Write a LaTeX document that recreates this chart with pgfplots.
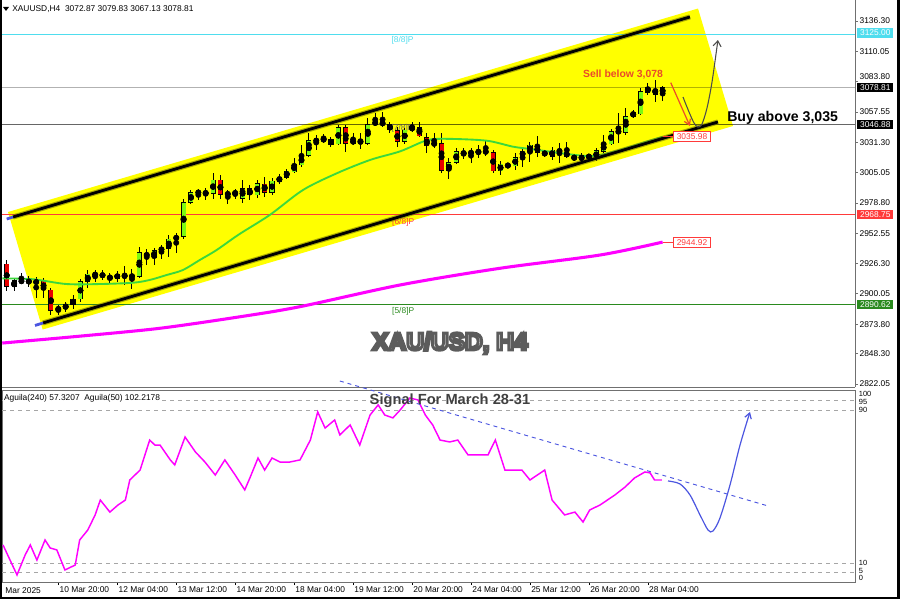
\documentclass[border=0pt]{standalone}
\usepackage{pgfplots}
\pgfplotsset{compat=1.18}
\usepackage{pgfplotstable}
\usepackage{fontspec}
\setmainfont{Liberation Sans}
\usetikzlibrary{arrows.meta}

\definecolor{chanyellow}{HTML}{FFFF00}
\definecolor{upcol}{HTML}{7CFA10}
\definecolor{dncol}{HTML}{E80000}
\definecolor{magf}{HTML}{FF00FF}
\definecolor{magreen}{HTML}{3CD83C}
\definecolor{lvcyan}{HTML}{4FDDEE}
\definecolor{lvred}{HTML}{FF3A3A}
\definecolor{lvgreen}{HTML}{2A8A1E}
\definecolor{sellred}{HTML}{EA4A2A}
\definecolor{trblue}{HTML}{4B55E0}
\definecolor{axgray}{HTML}{707070}

\newcommand{\tf}{\fontsize{6.3}{7.5}\selectfont}

% H4 candles, bar index i
\pgfplotstableread{
i o h l c
0 2925.9 2929.4 2902.8 2906.3
1 2906.3 2913.8 2902.8 2911.5
2 2910.0 2918.2 2908.6 2912.1
3 2912.1 2915.5 2906.0 2909.5
4 2909.5 2914.7 2896.5 2911.2
5 2911.2 2913.8 2896.5 2903.4
6 2903.4 2905.5 2881.8 2885.5
7 2885.8 2890.4 2881.8 2888.2
8 2887.5 2893.0 2884.5 2890.8
9 2890.8 2899.1 2887.0 2895.6
10 2895.6 2913.0 2893.0 2910.6
11 2910.6 2921.0 2905.0 2917.3
12 2916.5 2920.5 2910.0 2917.0
13 2917.2 2920.5 2912.0 2915.2
14 2913.5 2918.5 2909.0 2915.0
15 2913.5 2920.0 2910.5 2917.0
16 2916.5 2924.5 2907.5 2914.5
17 2915.0 2922.0 2904.0 2915.6
18 2915.0 2940.6 2914.0 2935.7
19 2935.2 2938.5 2925.5 2932.3
20 2931.7 2940.0 2925.5 2937.4
21 2937.4 2942.5 2930.5 2939.7
22 2939.5 2951.0 2932.3 2947.6
23 2947.6 2953.0 2935.5 2949.5
24 2949.5 2982.5 2948.0 2979.0
25 2979.0 2990.0 2978.0 2987.7
26 2987.5 2990.5 2981.0 2988.2
27 2988.0 2992.0 2981.5 2986.8
28 2986.8 3004.5 2982.0 2998.7
29 2998.7 3003.0 2982.0 2985.8
30 2985.8 2990.0 2978.0 2987.3
31 2987.0 2991.0 2982.0 2987.8
32 2982.8 2998.7 2978.5 2991.0
33 2991.1 2994.3 2981.3 2985.7
34 2985.7 2998.7 2983.5 2995.8
35 2995.2 3001.0 2983.7 2988.0
36 2988.0 3000.4 2985.7 2997.8
37 2997.2 3003.5 2995.5 3001.0
38 3000.8 3008.5 2999.5 3006.4
39 3005.6 3017.4 3004.5 3012.5
40 3011.6 3029.0 3010.2 3020.0
41 3019.7 3039.1 3018.8 3033.0
42 3032.0 3037.6 3024.6 3033.5
43 3032.6 3038.4 3031.0 3034.7
44 3033.9 3035.8 3026.8 3029.6
45 3029.8 3046.3 3029.0 3044.3
46 3044.3 3046.3 3022.6 3030.4
47 3030.4 3039.0 3028.6 3033.3
48 3033.0 3039.0 3025.5 3030.4
49 3030.4 3052.0 3029.0 3046.9
50 3046.9 3056.4 3045.4 3049.2
51 3049.2 3057.3 3044.8 3046.3
52 3046.9 3049.0 3039.0 3041.9
53 3041.3 3044.8 3027.5 3031.8
54 3031.8 3044.0 3030.0 3041.9
55 3041.9 3048.5 3040.5 3044.8
56 3044.3 3048.5 3035.5 3036.7
57 3035.7 3039.0 3021.8 3028.1
58 3029.0 3039.1 3026.1 3031.0
59 3030.4 3039.1 3004.4 3006.7
60 3006.7 3017.4 2999.3 3013.6
61 3013.6 3026.0 3012.4 3023.2
62 3022.0 3026.1 3016.6 3021.8
63 3022.0 3026.1 3013.3 3022.4
64 3021.8 3028.9 3017.5 3023.8
65 3023.0 3033.3 3019.4 3023.2
66 3022.6 3024.6 3005.0 3006.4
67 3006.4 3015.4 3003.0 3012.5
68 3011.0 3013.0 3009.5 3011.3
69 3010.8 3021.8 3007.3 3018.3
70 3018.8 3026.0 3010.0 3023.8
71 3023.2 3031.8 3014.5 3028.9
72 3028.1 3036.7 3018.8 3022.3
73 3022.9 3024.6 3018.8 3020.3
74 3018.8 3027.5 3016.0 3024.6
75 3025.2 3030.4 3013.1 3022.3
76 3022.9 3031.8 3017.4 3018.8
77 3018.8 3020.0 3015.5 3017.4
78 3017.4 3021.7 3013.5 3018.8
79 3018.8 3021.2 3016.6 3019.0
80 3017.4 3026.0 3015.5 3024.0
81 3023.2 3037.6 3021.8 3030.4
82 3029.8 3042.5 3029.0 3040.5
83 3040.5 3056.4 3030.4 3040.6
84 3039.6 3060.7 3037.6 3053.5
85 3053.5 3059.3 3052.1 3057.3
86 3055.8 3078.3 3055.0 3075.1
87 3074.6 3082.4 3072.2 3078.6
88 3077.2 3085.2 3066.4 3072.9
89 3072.87 3079.83 3067.13 3078.81
}\candles

% fast moving average (green)
\pgfplotstableread{
i v
-0.6 2913.5
3.6 2912.7
8.1 2908.6
12.7 2908.6
17.1 2909.7
19.4 2912.1
21.7 2916.4
23.9 2920.7
26.2 2929.4
28.5 2938.1
31.5 2951.5
35.7 2968.4
40.2 2990.0
44.8 3004.5
49.3 3016.0
53.4 3023.5
57.0 3033.0
59.7 3034.3
65.1 3032.7
68.7 3027.5
71.4 3025.2
76.0 3021.2
78.7 3019.4
80.5 3020.3
83.2 3024.6
86.8 3031.8
89.0 3035.98
}\mafast

% slow moving average (magenta)
\pgfplotstableread{
i v
-0.6 2857.5
10 2863.5
20.8 2870.3
31.7 2880.3
39.8 2889.0
53.4 2907.8
66.9 2922.2
80.5 2933.7
89.0 2944.92
}\maslow

% oscillator, lower panel
\pgfplotstableread{
i v
-0.5 19.4
0.45 11.5
1.4 3.7
2.5 14.1
3.2 19.4
4.1 11.5
5.2 22.0
5.9 17.8
6.8 16.8
7.9 6.3
9.3 8.9
9.9 22.0
11.0 27.2
12.0 35.1
12.7 42.9
14.0 36.6
15.1 40.3
16.1 42.9
16.7 53.4
18.1 58.6
19.4 74.3
20.1 71.7
20.8 71.7
22.2 63.9
22.8 61.3
24.2 75.9
25.6 68.1
26.9 62.8
28.3 56.0
29.6 63.9
31.0 56.0
32.3 48.2
33.0 54.5
34.1 64.9
35.0 58.6
36.0 64.9
37.1 62.8
38.4 62.8
39.8 63.9
41.2 74.3
42.2 89.0
43.2 80.6
44.5 84.8
45.2 77.0
46.6 82.2
47.9 71.7
49.3 87.4
50.4 92.7
51.3 87.4
52.4 85.9
53.4 90.1
54.7 96.3
55.8 95.3
56.8 87.4
57.8 82.2
58.8 74.3
60.1 73.3
61.2 74.3
62.6 66.5
63.9 66.5
65.3 66.5
66.3 74.3
67.6 58.6
69.0 58.6
69.9 58.6
71.0 53.4
73.0 58.6
74.0 42.9
75.7 35.1
77.1 36.6
78.2 31.4
79.1 37.7
80.5 40.3
82.5 45.5
83.9 49.7
85.2 54.5
86.6 57.6
87.3 57.1
87.9 53.4
88.9 53.4
}\osc

\begin{document}
\begin{tikzpicture}
\useasboundingbox (0,0) rectangle (675pt,-449.25pt);

%================ main price panel ================
\begin{axis}[
  at={(1.5pt,-290.25pt)}, anchor=south west,
  scale only axis, width=639.75pt, height=290.25pt,
  xmin=-0.638, xmax=115.1, ymin=2819.45, ymax=3154.48,
  axis x line*=bottom, axis y line*=right,
  axis line style={draw=axgray, line width=0.75pt},
  xtick=\empty,
  ytick={2822.05,2848.30,2873.80,2900.05,2926.30,2952.55,2978.80,3005.05,3031.30,3057.55,3083.80,3110.05,3136.30},
  yticklabels={2822.05,2848.30,2873.80,2900.05,2926.30,2952.55,2978.80,3005.05,3031.30,3057.55,,3110.05,3136.30},
  tick align=outside, major tick length=2.25pt,
  tick style={draw=axgray, line width=0.6pt},
  yticklabel style={font=\tf, anchor=west, inner sep=1pt},
  clip=false,
]
% channel background
\addplot[draw=none, fill=chanyellow, forget plot] coordinates {
  (0.18,2970.95) (93.8,3147.1) (98.55,3045.4) (4.88,2869.2) (0.18,2970.95)};
% horizontal levels
\addplot[lvcyan, line width=0.75pt, forget plot] coordinates {(-0.638,3125.00) (115.1,3125.00)};
\addplot[black, opacity=0.3, line width=0.75pt, forget plot] coordinates {(-0.638,3078.81) (115.1,3078.81)};
\addplot[black, opacity=0.6, line width=0.75pt, forget plot] coordinates {(-0.638,3046.88) (115.1,3046.88)};
\addplot[lvred, line width=0.75pt, forget plot] coordinates {(-0.638,2968.75) (115.1,2968.75)};
\addplot[lvgreen, line width=0.75pt, forget plot] coordinates {(-0.638,2890.62) (115.1,2890.62)};
\node[text=lvcyan, font=\tf] at (axis cs:53.7,3119.8) {[8/8]P};
\node[text=black!60, font=\tf] at (axis cs:53.7,3043.2) {[7/8]P};
\node[text=lvred, font=\tf] at (axis cs:53.8,2962.3) {[6/8]P};
\node[text=lvgreen, font=\tf] at (axis cs:53.8,2885.2) {[5/8]P};

% candles: wicks, body outlines, body fills
\addplot[only marks, mark=none, forget plot,
  error bars/.cd, y dir=both, y explicit, error mark=none,
  error bar style={line width=0.75pt, black}]
  table[x=i, y expr={(\thisrow{h}+\thisrow{l})/2}, y error expr={(\thisrow{h}-\thisrow{l})/2}]{\candles};
\addplot[only marks, mark=none, forget plot,
  error bars/.cd, y dir=both, y explicit, error mark=none,
  error bar style={line width=3.8pt, black}]
  table[x=i, y expr={(\thisrow{o}+\thisrow{c})/2}, y error expr={abs(\thisrow{c}-\thisrow{o})/2+0.3}]{\candles};
\addplot[only marks, mark=none, forget plot, unbounded coords=discard,
  x filter/.expression={\thisrow{c}>\thisrow{o} ? x : nan},
  error bars/.cd, y dir=both, y explicit, error mark=none,
  error bar style={line width=3.0pt, upcol}]
  table[x=i, y expr={(\thisrow{o}+\thisrow{c})/2}, y error expr={max(abs(\thisrow{c}-\thisrow{o})/2-0.3,0)}]{\candles};
\addplot[only marks, mark=none, forget plot, unbounded coords=discard,
  x filter/.expression={\thisrow{c}<\thisrow{o} ? x : nan},
  error bars/.cd, y dir=both, y explicit, error mark=none,
  error bar style={line width=3.0pt, dncol}]
  table[x=i, y expr={(\thisrow{o}+\thisrow{c})/2}, y error expr={max(abs(\thisrow{c}-\thisrow{o})/2-0.3,0)}]{\candles};

% moving averages
\addplot[magf, line width=2.3pt, smooth, forget plot] table[x=i, y=v]{\maslow};
\addplot[magreen, line width=1.4pt, smooth, forget plot] table[x=i, y=v]{\mafast};

% channel lines
\addplot[black!55!chanyellow, line width=3.8pt, opacity=0.6, forget plot] coordinates {(0.855,2966.6) (92.7,3139.8)};
\addplot[black!55!chanyellow, line width=3.8pt, opacity=0.6, forget plot] coordinates {(4.93,2874.9) (96.5,3048.9)};
\addplot[black, line width=2.1pt, forget plot] coordinates {(0.855,2966.6) (92.7,3139.8)};
\addplot[black, line width=2.1pt, forget plot] coordinates {(4.93,2874.9) (96.5,3048.9)};
\addplot[trblue, line width=2.1pt, forget plot] coordinates {(0,2964.9) (0.855,2966.6)};
\addplot[trblue, line width=2.1pt, forget plot] coordinates {(3.84,2872.7) (4.93,2874.9)};

% MA value tags
\addplot[lvred, line width=0.75pt, forget plot] coordinates {(89.0,3035.98) (90.4,3035.98)};
\addplot[lvred, line width=0.75pt, forget plot] coordinates {(89.0,2944.92) (90.4,2944.92)};

% forecast arrows
\addplot[sellred, line width=0.9pt, forget plot, -{Straight Barb[length=4pt,width=5pt]}]
  coordinates {(90.1,3082.9) (92.7,3045.4)};
\addplot[black!70, line width=0.8pt, smooth, forget plot, -{Straight Barb[length=4pt,width=6pt]}]
  coordinates {(91.76,3070.5) (92.58,3057.5) (93.26,3048.0) (93.8,3044.5) (94.34,3047.1) (95.02,3061.0) (95.7,3083.5) (96.5,3119.8)};
\end{axis}

%================ lower oscillator panel ================
\begin{axis}[
  at={(1.5pt,-436.5pt)}, anchor=south west,
  scale only axis, width=639.75pt, height=144pt,
  xmin=-0.638, xmax=115.1, ymin=0, ymax=100.5,
  axis line style={draw=axgray, line width=0.75pt},
  xtick={7,15,23,31,39,47,55,63,71,79,87},
  xticklabels={10 Mar 20:00,12 Mar 04:00,13 Mar 12:00,14 Mar 20:00,18 Mar 04:00,19 Mar 12:00,20 Mar 20:00,24 Mar 04:00,25 Mar 12:00,26 Mar 20:00,28 Mar 04:00},
  xtick pos=bottom, ytick pos=right,
  ytick={1.9,5.6,10,90,94.2,98.3},
  yticklabels={0,5,10,90,95,100},
  tick align=outside, major tick length=2.25pt,
  xtick style={draw=black, line width=0.6pt},
  ytick style={draw=none},
  xticklabel style={font=\tf, anchor=north west, inner sep=0.5pt, xshift=0.3pt, yshift=-0.8pt},
  yticklabel style={font=\fontsize{5.6}{6.5}\selectfont, anchor=west, inner sep=0.5pt},
  clip=false,
]
\addplot[gray!70, dashed, line width=0.5pt, forget plot] coordinates {(-0.638,95) (115.1,95)};
\addplot[gray!70, dashed, line width=0.5pt, forget plot] coordinates {(-0.638,90) (115.1,90)};
\addplot[gray!70, dashed, line width=0.5pt, forget plot] coordinates {(-0.638,10) (115.1,10)};
\addplot[gray!70, dashed, line width=0.5pt, forget plot] coordinates {(-0.638,5) (115.1,5)};
\addplot[magf, line width=1.1pt, forget plot] table[x=i, y=v]{\osc};
\addplot[trblue, dashed, line width=0.7pt, forget plot] coordinates {(45.2,105.2) (103.3,39.8)};
\addplot[trblue, line width=0.9pt, smooth, forget plot, -{Straight Barb[length=4pt,width=5pt]}]
  coordinates {(89.73,52.9) (91.36,51.3) (92.72,45.5) (94.07,35.1) (95.16,27.2) (95.83,26.7) (96.78,33.5) (98.14,50.8) (99.5,71.7) (100.85,89.0)};
\node[anchor=north west, font=\tf, inner sep=0.5pt] at (axis cs:-0.3,-2.2) {Mar 2025};
\end{axis}

%================ annotations in pixel units ================
\begin{scope}[x=0.75pt,y=-0.75pt]
  % header
  \fill[black] (3,7) -- (9,7) -- (6,11) -- cycle;
  \node[anchor=west, inner sep=0, font=\tf] at (12,9.5) {XAUUSD,H4\ \ 3072.87 3079.83 3067.13 3078.81};
  \node[anchor=west, inner sep=0.6pt, fill=white, font=\tf] at (3,398) {Aguila(240) 57.3207\ \ Aguila(50) 102.2178};
  % scale label sitting just above the current-price tag
  \node[anchor=west, inner sep=1pt, font=\tf] at (858,76.5) {3083.80};
  % price tags on the right scale
  \node[anchor=west, fill=lvcyan, text=white, font=\tf, inner sep=0, minimum width=27pt, minimum height=7pt] at (857,33) {3125.00};
  \node[anchor=west, fill=black, text=white, font=\tf, inner sep=0, minimum width=27pt, minimum height=7pt] at (857,87.4) {3078.81};
  \node[anchor=west, fill=black, text=white, font=\tf, inner sep=0, minimum width=27pt, minimum height=7pt] at (857,124.3) {3046.88};
  \node[anchor=west, fill=lvred, text=white, font=\tf, inner sep=0, minimum width=27pt, minimum height=7pt] at (857,214.5) {2968.75};
  \node[anchor=west, fill=lvgreen, text=white, font=\tf, inner sep=0, minimum width=27pt, minimum height=7pt] at (857,304.8) {2890.62};
  % MA value boxes
  \node[draw=lvred, fill=white, text=lvred, font=\tf, inner sep=0, line width=0.6pt, minimum width=28pt, minimum height=8pt] at (692,136.5) {3035.98};
  \node[draw=lvred, fill=white, text=lvred, font=\tf, inner sep=0, line width=0.6pt, minimum width=28pt, minimum height=8pt] at (692,242.5) {2944.92};
  % trade texts
  \node[text=sellred, font=\fontsize{7.8}{9}\bfseries\selectfont] at (623,74.5) {Sell below 3,078};
  \node[anchor=west, inner sep=0, font=\fontsize{10.6}{12}\bfseries\selectfont] at (727,118) {Buy above 3,035};
  % big title: white fill, grey stroked outline
  \node[font=\fontsize{18.4}{20}\bfseries\selectfont] at (450,343)
    {\color{white}\special{pdf:literal direct 2 Tr 2.2 w 0.36 0.36 0.36 RG}XAU/USD, H4\special{pdf:literal direct 0 Tr}};
  % signal caption
  \node[text=black!75, font=\fontsize{11}{12}\bfseries\selectfont] at (450,401) {Signal For March 28-31};
  % image frame
  \fill[black] (0,0) rectangle (1.5,599);
  \fill[black] (897,0) rectangle (900,599);
  \fill[black] (0,596.5) rectangle (900,599);
\end{scope}
\end{tikzpicture}
\end{document}
